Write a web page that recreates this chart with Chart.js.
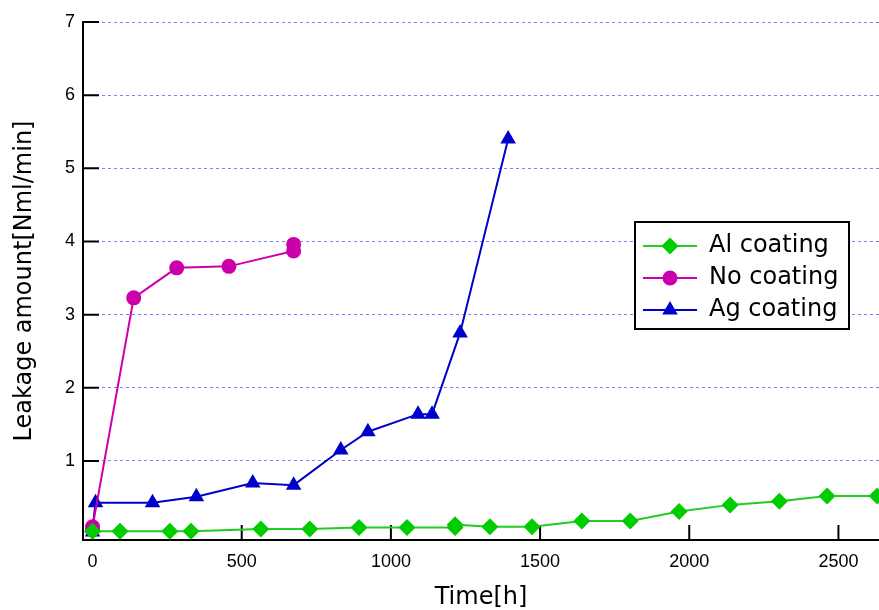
<!DOCTYPE html>
<html>
<head>
<meta charset="utf-8">
<script src="https://cdn.jsdelivr.net/npm/chart.js@4.4.1/dist/chart.umd.min.js"></script>
<style>
    body { margin: 0; background: #fff; }
    #wrap { width: 879px; height: 610px; }
</style>
</head>
<body>
<div id="wrap"><canvas id="leak_chart" width="879" height="610"></canvas></div>
<script>
// values
var seriesNames = ['Al coating', 'No coating', 'Ag coating'];

var alTime = [0, 92, 259, 330, 564, 728, 893, 1054, 1215, 1215, 1332, 1473, 1640, 1802, 1966, 2137, 2302, 2462, 2630];
var alLeak = [0.04, 0.04, 0.04, 0.04, 0.07, 0.07, 0.09, 0.09, 0.09, 0.13, 0.10, 0.10, 0.18, 0.18, 0.31, 0.40, 0.45, 0.52, 0.52];

var noTime = [0, 0, 138, 282, 457, 674, 674];
var noLeak = [0.06, 0.10, 3.23, 3.64, 3.66, 3.87, 3.96];

var agTime = [0, 0, 10, 201, 348, 537, 674, 832, 923, 1091, 1138, 1232, 1393];
var agLeak = [0.03, 0.08, 0.43, 0.43, 0.51, 0.70, 0.67, 1.15, 1.40, 1.64, 1.64, 2.75, 5.40];

var xTicks = [0, 500, 1000, 1500, 2000, 2500];
var yTicks = [1, 2, 3, 4, 5, 6, 7];

var colors = ['#00cc00', '#cc00aa', '#0000cc'];
var lineColors = ['#22cc22', '#cc00aa', '#0000cc'];
var styles = ['rectRot', 'circle', 'triangle'];
var radii = [8.5, 7.5, 9];
var font = 'DejaVu Sans';
var tickFont = 'Liberation Sans';

function pairs(xs, ys) {
    return xs.map(function(x, i) { return {x: x, y: ys[i]}; });
}

// little line + marker picture for the legend
function glyph(i) {
    var c = document.createElement('canvas');
    c.width = 54; c.height = 22;
    var g = c.getContext('2d');
    g.strokeStyle = lineColors[i];
    g.lineWidth = 2;
    g.beginPath(); g.moveTo(0, 11); g.lineTo(54, 11); g.stroke();
    g.fillStyle = colors[i];
    Chart.helpers.drawPoint(g, {pointStyle: styles[i], radius: radii[i], borderWidth: 0, rotation: 0}, 27, 11);
    return c;
}

function makeSet(i, xs, ys) {
    return {
        label: seriesNames[i],
        data: pairs(xs, ys),
        showLine: true,
        borderColor: lineColors[i],
        backgroundColor: colors[i],
        borderWidth: 2,
        pointStyle: styles[i],
        pointRadius: radii[i],
        pointBorderWidth: 0,
        pointBackgroundColor: colors[i]
    };
}

var innerTicks = {
    id: 'innerTicks',
    beforeDatasetsDraw: function(chart) {
        var ctx = chart.ctx, a = chart.chartArea, sx = chart.scales.x, sy = chart.scales.y;
        ctx.save();
        ctx.strokeStyle = '#000';
        ctx.lineWidth = 2;
        ctx.beginPath();
        sy.ticks.forEach(function(t) {
            var p = sy.getPixelForValue(t.value);
            ctx.moveTo(a.left, p); ctx.lineTo(a.left + 16, p);
        });
        sx.ticks.forEach(function(t) {
            var p = sx.getPixelForValue(t.value);
            ctx.moveTo(p, a.bottom); ctx.lineTo(p, a.bottom - 15);
        });
        ctx.stroke();
        ctx.restore();
    }
};

var legendBox = {
    id: 'legendBox',
    afterLayout: function(chart) {
        var lg = chart.legend;
        lg.left = 635; lg.top = 226;
        lg.right = lg.left + lg.width;
        lg.bottom = lg.top + lg.height;
    },
    afterDatasetsDraw: function(chart) {
        var ctx = chart.ctx;
        ctx.save();
        ctx.fillStyle = '#fff';
        ctx.fillRect(635, 222, 214, 107);
        ctx.strokeStyle = '#000';
        ctx.lineWidth = 2;
        ctx.strokeRect(635, 222, 214, 107);
        ctx.restore();
        chart.legend.draw();
    }
};

new Chart(document.getElementById('leak_chart'), {
    type: 'scatter',
    data: {
        datasets: [
            makeSet(0, alTime, alLeak),
            makeSet(1, noTime, noLeak),
            makeSet(2, agTime, agLeak)
        ]
    },
    options: {
        responsive: false,
        animation: false,
        layout: {autoPadding: false, padding: {top: 22, right: 0, bottom: 0, left: 0}},
        plugins: {
            tooltip: {enabled: false},
            legend: {
                position: 'chartArea',
                align: 'start',
                labels: {
                    color: '#000',
                    font: {family: font, size: 24},
                    usePointStyle: true,
                    pointStyleWidth: 54,
                    padding: 8,
                    generateLabels: function(chart) {
                        return chart.data.datasets.map(function(ds, i) {
                            return {text: ds.label, pointStyle: glyph(i), datasetIndex: i,
                                    fillStyle: colors[i], strokeStyle: colors[i], lineWidth: 0, fontColor: '#000'};
                        });
                    }
                }
            }
        },
        scales: {
            x: {
                type: 'linear',
                min: -32,
                max: 2636,
                afterBuildTicks: function(s) { s.ticks = xTicks.map(function(v) { return {value: v}; }); },
                afterFit: function(s) { s.height = 70; s.paddingRight = 0; },
                grid: {display: false, drawTicks: false},
                border: {color: '#000', width: 2},
                ticks: {color: '#000', font: {family: tickFont, size: 18}, padding: 11, maxRotation: 0,
                        callback: function(v) { return String(v); }},
                title: {display: true, text: 'Time[h]', color: '#000', font: {family: font, size: 24, lineHeight: 1}, padding: {top: 0, bottom: 0}}
            },
            y: {
                min: -0.08,
                max: 7,
                afterBuildTicks: function(s) { s.ticks = yTicks.map(function(v) { return {value: v}; }); },
                afterFit: function(s) { s.width = 83; },
                grid: {color: '#7f7fff', lineWidth: 1, drawTicks: false},
                border: {color: '#000', width: 2, dash: [3, 3]},
                ticks: {color: '#000', font: {family: tickFont, size: 18}, padding: 8},
                title: {display: true, text: 'Leakage amount[Nml/min]', color: '#000', font: {family: font, size: 24}, padding: {top: 10, bottom: 0}}
            }
        }
    },
    plugins: [innerTicks, legendBox]
});
</script>
</body>
</html>
